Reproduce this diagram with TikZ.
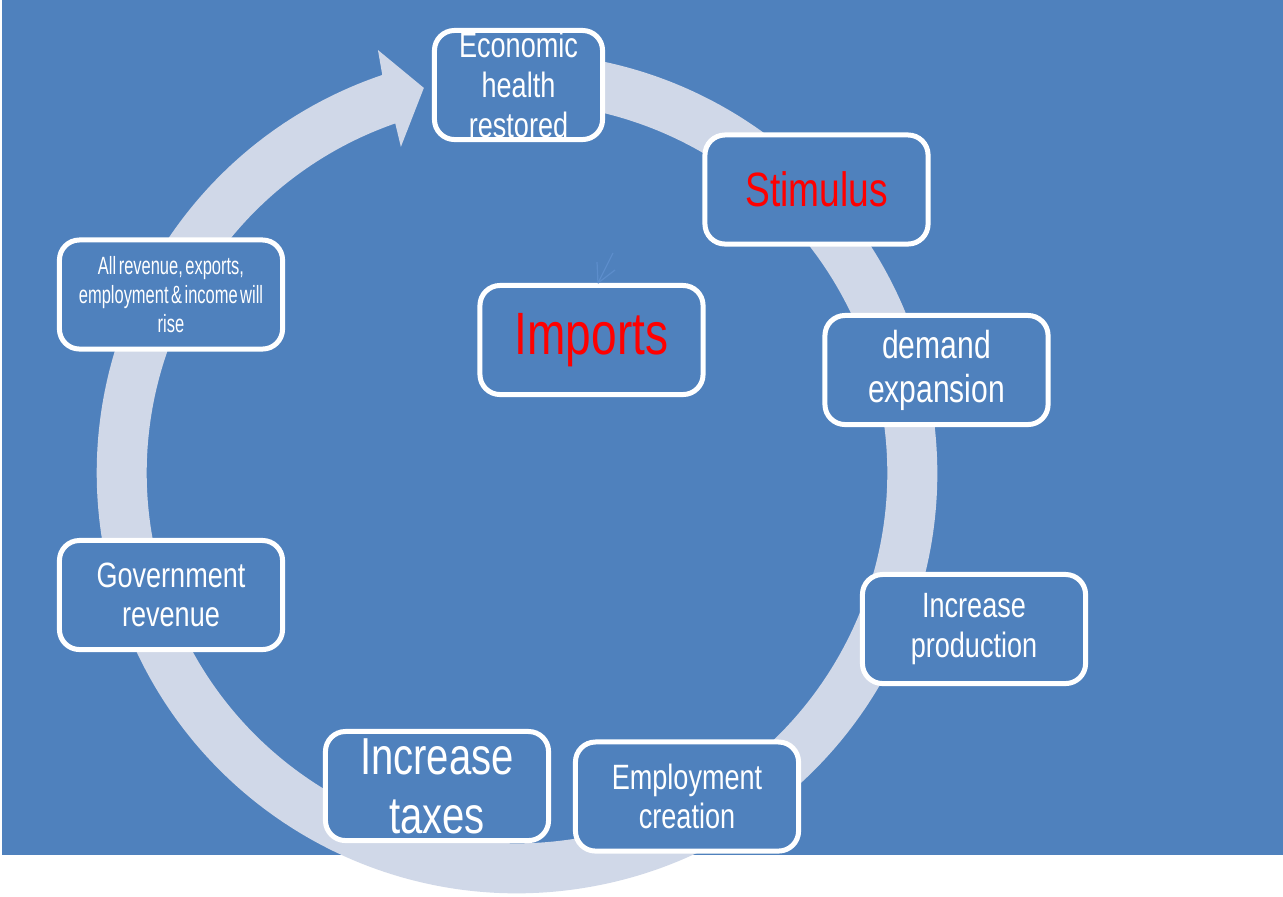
\documentclass[tikz,border=0pt]{standalone}
\usepackage{fontspec}
\setmainfont{Liberation Sans}[FakeStretch=0.77]
\newfontfamily\tightfont{Liberation Sans}[FakeStretch=0.66]
\usetikzlibrary{calc}
\definecolor{bgblue}{HTML}{4F81BD}
\definecolor{ringc}{HTML}{D0D8E8}
\definecolor{faintc}{HTML}{5C8DCB}
\definecolor{redtxt}{HTML}{FF0000}
\newcommand{\fsz}[1]{\fontsize{#1pt}{1.13\dimexpr #1pt\relax}\selectfont}
\begin{document}
\begin{tikzpicture}[x=0.01cm,y=-0.01cm,
  box/.style={draw=white, line width=0.05cm, rounded corners=0.2cm, fill=bgblue,
    text=white, align=center, inner sep=0pt, minimum width=2.23cm, minimum height=1.09cm},
  faint/.style={draw=faintc, line width=0.35pt}]
\useasboundingbox (0,0) rectangle (1283,896);
\fill[white] (0,0) rectangle (1283,896);
\fill[bgblue] (2,0) rectangle (1283,855);
% ring arrow
\coordinate (c) at (517,473);
\fill[ringc] ($(c)+(100:4.2cm)$) arc[start angle=100, end angle=-251.3, radius=4.2cm]
  -- ($(c)+(108.2:4.45cm)$) -- ($(c)+(103.6:3.96cm)$) -- ($(c)+(109.6:3.46cm)$)
  -- ($(c)+(109.2:3.7cm)$) arc[start angle=109.2, end angle=460, radius=3.7cm] -- cycle;
% boxes
\node[box, minimum width=1.68cm, font=\fsz{10}] (econ) at (518.5,85) {Economic\\health\\restored};
\node[box, font=\fsz{13.7}, text=redtxt] (stim) at (816.5,189.5) {Stimulus};
\node[box, font=\fsz{11.1}] (demand) at (936.5,370) {demand\\expansion};
\node[box, font=\fsz{10}] (prod) at (974,629) {Increase\\production};
\node[box, font=\fsz{10}] (emp) at (687,796.5) {Employment\\creation};
\node[box, font=\fsz{14.8}] (taxes) at (437,786) {Increase\\taxes};
\node[box, font=\fsz{10}] (gov) at (171,595) {Government\\revenue};
\node[box, font={\tightfont\fontsize{7.1pt}{8.3pt}\selectfont\spaceskip=0.1em\relax}] (all) at (171,294.5) {All revenue, exports,\\employment \& income will\\rise};
\node[box, font=\fsz{17}, text=redtxt] (imports) at (591.5,340) {Imports};
% faint stray arrow
\coordinate (ftip) at (598,283);
\coordinate (fa) at (597,262);
\coordinate (fb) at (613,253);
\coordinate (fc) at (615,270);
\draw[faint] (fa) -- (ftip);
\draw[faint] (fb) -- (ftip);
\draw[faint] (fc) -- (ftip);
\end{tikzpicture}
\end{document}
